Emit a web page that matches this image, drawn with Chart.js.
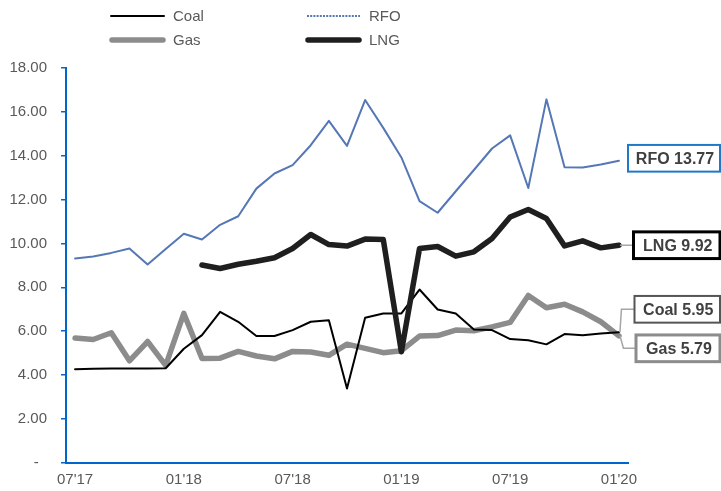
<!DOCTYPE html>
<html>
<head>
<meta charset="utf-8">
<script src="https://cdn.jsdelivr.net/npm/chart.js@4.4.1/dist/chart.umd.min.js"></script>
<style>
  html, body { margin: 0; padding: 0; background: #ffffff; }
  #wrap { width: 721px; height: 491px; position: relative; }
</style>
</head>
<body>
<div id="wrap"><canvas id="c" width="721" height="491"></canvas></div>
<script>
// ---- data ----
const months = ["07'17","08'17","09'17","10'17","11'17","12'17","01'18","02'18","03'18","04'18","05'18","06'18",
                "07'18","08'18","09'18","10'18","11'18","12'18","01'19","02'19","03'19","04'19","05'19","06'19",
                "07'19","08'19","09'19","10'19","11'19","12'19","01'20"];
const coal = [4.27,4.29,4.30,4.30,4.30,4.31,5.20,5.82,6.88,6.43,5.78,5.78,6.05,6.43,6.50,3.39,6.61,6.81,6.81,7.90,
              6.99,6.81,6.08,6.05,5.64,5.59,5.40,5.87,5.81,5.90,5.95];
const gas  = [5.69,5.62,5.93,4.65,5.53,4.44,6.81,4.76,4.77,5.08,4.87,4.74,5.08,5.05,4.90,5.41,5.22,5.02,5.11,5.78,
              5.80,6.05,6.02,6.20,6.40,7.63,7.07,7.23,6.88,6.43,5.79];
const rfo  = [9.32,9.41,9.57,9.77,9.04,9.75,10.44,10.18,10.85,11.24,12.50,13.19,13.57,14.48,15.59,14.45,16.54,15.27,
              13.92,11.93,11.40,12.38,13.35,14.33,14.93,12.53,16.57,13.48,13.46,13.60,13.77];
const lng  = [null,null,null,null,null,null,null,9.02,8.86,9.05,9.19,9.35,9.77,10.41,9.95,9.88,10.20,10.18,5.06,9.77,
              9.86,9.42,9.62,10.23,11.21,11.55,11.14,9.89,10.12,9.80,9.92];
const seriesNames = ["Coal", "Gas", "RFO", "LNG"];
const yMin = 0, yMax = 18, yStep = 2;

// ---- styles ----
const FONT = "'Liberation Sans', Arial, sans-serif";
const TXT = '#595959';
const AXIS = '#0066cc';
const COLORS = { Coal: '#000000', Gas: '#8c8c8c', RFO: '#5577b5', LNG: '#1f1f1f' };
const WIDTHS = { Coal: 2, Gas: 5.5, RFO: 2, LNG: 5.5 };

const legendPlugin = {
  id: 'customLegend',
  afterDraw(chart) {
    const ctx = chart.ctx;
    const items = [
      { name: 'Coal', x: 111, y: 16, dash: [] },
      { name: 'Gas',  x: 111, y: 40, dash: [] },
      { name: 'RFO',  x: 307, y: 16, dash: [2, 1.2] },
      { name: 'LNG',  x: 307, y: 40, dash: [] }
    ];
    ctx.save();
    items.forEach(it => {
      ctx.beginPath();
      ctx.setLineDash(it.dash);
      ctx.strokeStyle = COLORS[it.name];
      ctx.lineWidth = WIDTHS[it.name];
      ctx.lineCap = it.dash.length ? 'butt' : 'round';
      ctx.moveTo(it.x + (WIDTHS[it.name] > 3 ? 1 : 0), it.y);
      ctx.lineTo(it.x + 53 - (WIDTHS[it.name] > 3 ? 1 : 0), it.y);
      ctx.stroke();
      ctx.setLineDash([]);
      ctx.fillStyle = TXT;
      ctx.font = '15px ' + FONT;
      ctx.textBaseline = 'middle';
      ctx.textAlign = 'left';
      ctx.fillText(it.name, it.x + 62, it.y + 1);
    });
    ctx.restore();
  }
};

// end-of-line labels
const endLabels = [
  { name: 'RFO',  data: rfo,  left: 628,   dy: -2.5, border: '#1f78c8', bw: 2, leader: null },
  { name: 'LNG',  data: lng,  left: 633.5, dy: 0,    border: '#000000', bw: 3, leader: 'straight' },
  { name: 'Coal', data: coal, left: 634.5, dy: -23,  border: '#555555', bw: 2, leader: 2.5 },
  { name: 'Gas',  data: gas,  left: 636,   dy: 12.5, border: '#8c8c8c', bw: 3, leader: 4.5 }
];

const endLabelPlugin = {
  id: 'endLabels',
  afterDatasetsDraw(chart) {
    const ctx = chart.ctx;
    const xs = chart.scales.x, ys = chart.scales.y;
    const right = 720, h = 26.7;
    ctx.save();
    endLabels.forEach(l => {
      const last = l.data.length - 1;
      const v = l.data[last];
      const xe = xs.getPixelForValue(last);
      const ye = ys.getPixelForValue(v);
      const cy = ye + l.dy;
      // leader
      if (l.leader !== null) {
        ctx.beginPath();
        ctx.strokeStyle = '#a6a6a6';
        ctx.lineWidth = 1.5;
        if (l.leader === 'straight') {
          ctx.moveTo(xe + 1, cy);
          ctx.lineTo(l.left, cy);
        } else {
          ctx.moveTo(xe + 1, ye);
          ctx.lineTo(xe + l.leader, cy);
          ctx.lineTo(l.left, cy);
        }
        ctx.stroke();
      }
      // box
      ctx.fillStyle = '#ffffff';
      ctx.fillRect(l.left, cy - h / 2, right - l.left, h);
      ctx.strokeStyle = l.border;
      ctx.lineWidth = l.bw;
      ctx.strokeRect(l.left, cy - h / 2, right - l.left, h);
      // text
      ctx.fillStyle = '#404040';
      ctx.font = 'bold 16px ' + FONT;
      ctx.textAlign = 'center';
      ctx.textBaseline = 'middle';
      ctx.fillText(l.name + ' ' + v.toFixed(2), (l.left + right) / 2 + 1, cy + 1);
    });
    ctx.restore();
  }
};

const mk = (name, data, order) => ({
  label: name,
  data: data,
  borderColor: COLORS[name],
  backgroundColor: COLORS[name],
  borderWidth: WIDTHS[name],
  pointRadius: 0,
  pointHoverRadius: 0,
  tension: 0,
  spanGaps: false,
  fill: false,
  borderJoinStyle: 'round',
  borderCapStyle: 'round',
  order: order
});

new Chart(document.getElementById('c'), {
  type: 'line',
  data: {
    labels: months,
    datasets: [
      mk('LNG', lng, 0),
      mk('Coal', coal, 1),
      mk('RFO', rfo, 2),
      mk('Gas', gas, 3)
    ]
  },
  options: {
    responsive: false,
    devicePixelRatio: 1,
    animation: false,
    layout: { padding: { top: 68, right: 93, bottom: 0, left: 0 } },
    plugins: { legend: { display: false }, tooltip: { enabled: false } },
    scales: {
      x: {
        type: 'category',
        offset: true,
        border: { display: true, color: AXIS, width: 2 },
        grid: { display: true, drawOnChartArea: false, drawTicks: false, color: 'rgba(0,0,0,0)' },
        ticks: {
          autoSkip: false, maxRotation: 0, minRotation: 0, padding: 8,
          color: TXT, font: { family: FONT, size: 15 },
          callback: function(val, idx) { return idx % 6 === 0 ? months[idx] : null; }
        },
        afterFit: s => { s.height = 28.2; }
      },
      y: {
        min: yMin, max: yMax,
        border: { display: true, color: AXIS, width: 2 },
        grid: { display: true, drawOnChartArea: false, drawTicks: true, tickLength: 5, color: AXIS, lineWidth: 1.5 },
        ticks: {
          stepSize: yStep, padding: 14, color: TXT, font: { family: FONT, size: 15 },
          callback: v => v === 0 ? '-  ' : v.toFixed(2)
        },
        afterFit: s => { s.width = 66; }
      }
    }
  },
  plugins: [legendPlugin, endLabelPlugin]
});
</script>
</body>
</html>
